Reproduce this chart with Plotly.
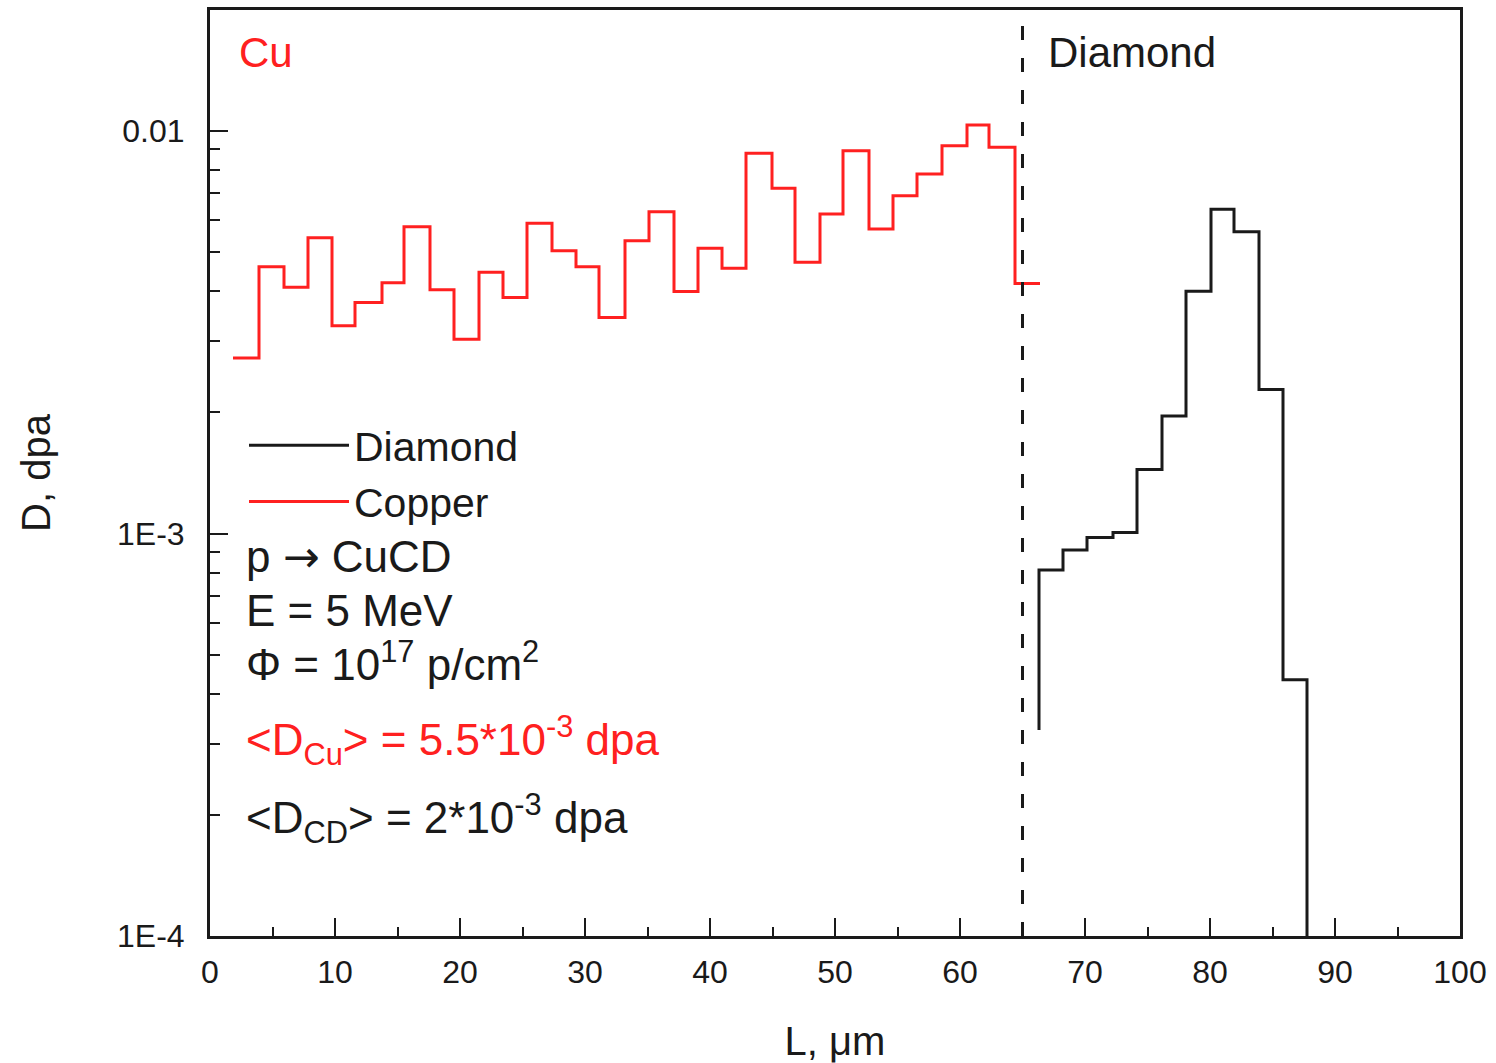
import plotly.graph_objects as go
import math

# ---- data ----
# Copper: bin edges (um) and dose per bin (dpa)
cu_edges = [1.84, 3.92, 5.92, 7.84, 9.76, 11.6, 13.76, 15.52, 17.6, 19.52, 21.52,
            23.44, 25.36, 27.36, 29.28, 31.12, 33.2, 35.12, 37.12, 39.04, 40.96,
            42.88, 44.96, 46.8, 48.8, 50.64, 52.72, 54.64, 56.56, 58.56, 60.56,
            62.32, 64.4, 66.4]
cu_dose = [2.73e-3, 4.60e-3, 4.09e-3, 5.43e-3, 3.28e-3, 3.75e-3, 4.20e-3, 5.78e-3,
           4.03e-3, 3.04e-3, 4.46e-3, 3.86e-3, 5.90e-3, 5.04e-3, 4.60e-3, 3.44e-3,
           5.34e-3, 6.30e-3, 3.99e-3, 5.11e-3, 4.56e-3, 8.80e-3, 7.21e-3, 4.72e-3,
           6.22e-3, 8.93e-3, 5.71e-3, 6.90e-3, 7.82e-3, 9.19e-3, 1.035e-2, 9.11e-3,
           4.18e-3]

# Diamond (CD): bin edges (um) and dose per bin (dpa)
cd_edges = [66.32, 68.24, 70.16, 72.24, 74.16, 76.16, 78.08, 80.08, 81.92, 83.92,
            85.84, 87.76]
cd_dose = [8.11e-4, 9.10e-4, 9.78e-4, 1.005e-3, 1.443e-3, 1.958e-3, 4.00e-3,
           6.39e-3, 5.62e-3, 2.28e-3, 4.33e-4]
cd_start_dose = 3.25e-4     # value where the diamond curve begins
cd_end_dose = 1e-6          # curve falls below the axis after the last bin

boundary_L = 65             # Cu / diamond interface

x_ticks = [0, 10, 20, 30, 40, 50, 60, 70, 80, 90, 100]
x_minor = [5, 15, 25, 35, 45, 55, 65, 75, 85, 95]
y_ticks = [1e-4, 1e-3, 1e-2]
y_ticktext = ["1E-4", "1E-3", "0.01"]
y_minor = [m * 10.0 ** e for e in (-4, -3, -2) for m in range(2, 10)]

RED = "#ff2020"
BLACK = "#1a1a1a"
FONT = "Liberation Sans, Arial, sans-serif"

# step traces
cu_x = cu_edges
cu_y = cu_dose + [cu_dose[-1]]
cd_x = [cd_edges[0]] + cd_edges
cd_y = [cd_start_dose] + cd_dose + [cd_end_dose]

fig = go.Figure()
fig.add_trace(go.Scatter(x=cd_x, y=cd_y, mode="lines", line_shape="hv",
                         line=dict(color=BLACK, width=3), name="Diamond"))
fig.add_trace(go.Scatter(x=cu_x, y=cu_y, mode="lines", line_shape="hv",
                         line=dict(color=RED, width=3), name="Copper"))

fig.add_shape(type="line", xref="x", yref="paper", x0=boundary_L, x1=boundary_L,
              y0=0, y1=1, line=dict(color=BLACK, width=3, dash="14px,18px"))

W, H = 1496, 1063
L_M, R_M, T_M, B_M = 210, 36, 10, 127
PW, PH = W - L_M - R_M, H - T_M - B_M


def px(xp):
    return (xp - L_M) / PW


def py(yp):
    return (H - B_M - yp) / PH


def ann(text, xp, yp, color=BLACK, size=44, xanchor="left"):
    fig.add_annotation(text=text, xref="paper", yref="paper", x=px(xp), y=py(yp),
                       xanchor=xanchor, yanchor="middle", showarrow=False,
                       font=dict(family=FONT, size=size, color=color))


ann("Cu", 237, 52, color=RED, size=42)
ann("Diamond", 1046, 52, size=42)
ann("p <span style='font-family:DejaVu Sans'>→</span> CuCD", 244, 556)
ann("E = 5 MeV", 244, 610)
ann("Φ = 10<sup>17</sup> p/cm<sup>2</sup>", 244, 662)
ann("&#60;D<sub>Cu</sub>&#62; = 5.5*10<sup>-3</sup> dpa", 244, 740, color=RED)
ann("&#60;D<sub>CD</sub>&#62; = 2*10<sup>-3</sup> dpa", 244, 818)

axis_common = dict(showline=True, linecolor=BLACK, linewidth=3, mirror=True,
                   ticks="inside", ticklen=18, tickwidth=2, tickcolor=BLACK,
                   showgrid=False, zeroline=False, automargin=False,
                   tickfont=dict(family=FONT, size=32, color=BLACK),
                   title_font=dict(family=FONT, size=40, color=BLACK))

fig.update_xaxes(range=[0, 100], tickvals=x_ticks, ticklabelstandoff=6,
                 minor=dict(tickvals=x_minor, ticks="inside", ticklen=9,
                            tickwidth=2, tickcolor=BLACK),
                 title=dict(text="L, μm", standoff=40), **axis_common)
fig.update_yaxes(type="log", range=[-4, math.log10(0.01998)], tickvals=y_ticks,
                 ticktext=y_ticktext, ticklabelstandoff=16,
                 minor=dict(tickvals=y_minor, ticks="inside", ticklen=10,
                            tickwidth=2, tickcolor=BLACK),
                 title=dict(text="D, dpa", standoff=55), **axis_common)

fig.update_layout(
    width=W, height=H, autosize=False,
    margin=dict(l=L_M, r=R_M, t=T_M, b=B_M),
    plot_bgcolor="white", paper_bgcolor="white",
    font=dict(family=FONT, color=BLACK),
    showlegend=True,
    legend=dict(x=px(244), y=py(412), xanchor="left", yanchor="top",
                bgcolor="rgba(0,0,0,0)", borderwidth=0, itemwidth=100,
                tracegroupgap=0,
                font=dict(family=FONT, size=41, color=BLACK)),
)

fig.write_html("out.html")
